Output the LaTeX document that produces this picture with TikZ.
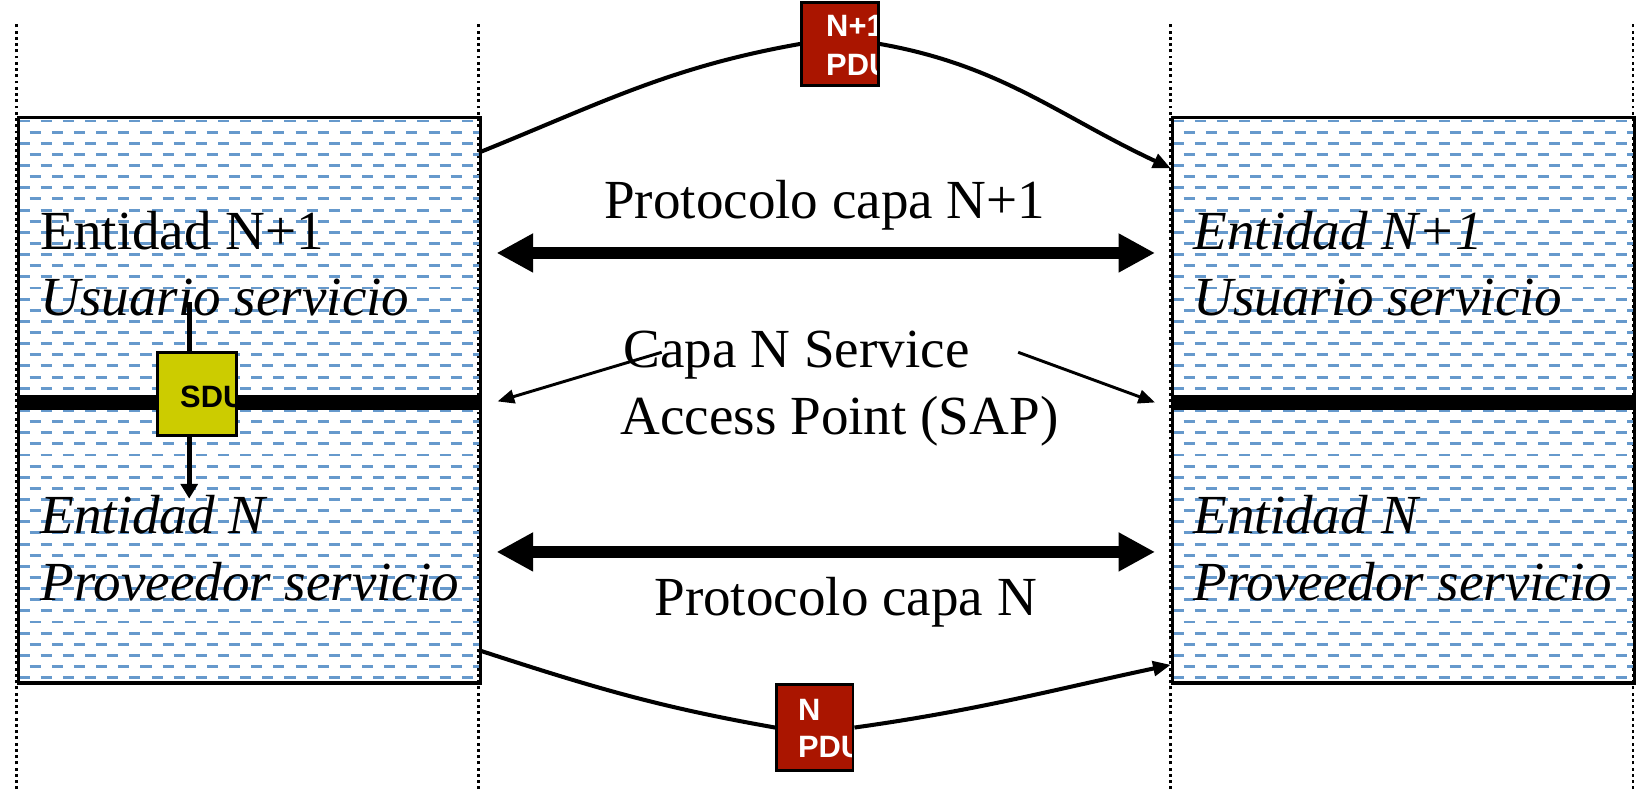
\documentclass[tikz,border=0pt]{standalone}
\usepackage{fontspec}
\setmainfont{Liberation Serif}
\newfontfamily\pdufont{Liberation Sans}
\usetikzlibrary{arrows.meta}

\definecolor{hatchblue}{RGB}{102,153,204}
\definecolor{pdured}{RGB}{170,21,0}
\definecolor{sduyellow}{RGB}{204,204,0}

\begin{document}
\begin{tikzpicture}[
  big/.style={font=\fontsize{15}{18}\selectfont, inner sep=0pt, anchor=base west},
  guide/.style={line width=0.7pt, dash pattern=on 0.8pt off 0.9pt},
  entity/.style={draw, line width=1pt, minimum width=4.42cm, minimum height=5.41cm,
    inner sep=0pt, path picture={
      \foreach \i in {0,...,50} {
        \pgfmathsetmacro{\ph}{mod(\i,2)*0.106}
        \draw[hatchblue, line width=0.8pt, dash pattern=on 1.06mm off 1.06mm, dash phase=\ph cm]
          ([yshift=-0.35mm-\i*1.065mm]path picture bounding box.north west) -- ++(4.5,0);
      }}},
  sap/.style={line width=1.4mm},
  proto/.style={{Triangle[length=3.5mm,width=3.5mm]}-{Triangle[length=3.5mm,width=3.5mm]}, line width=1.2mm},
  pointer/.style={-{Triangle[length=1.6mm,width=1.3mm]}, line width=0.8pt},
  link/.style={line width=1.1pt},
  box/.style={draw, line width=0.8pt, minimum width=0.73cm, minimum height=0.8cm, inner sep=0pt},
  boxtext/.style={font=\pdufont\bfseries\fontsize{8.4}{10}\selectfont, anchor=base west,
    inner sep=0pt, minimum width=0pt, minimum height=0pt, draw=none, fill=none}
]
  \useasboundingbox (0,0) rectangle (15.66,7.55);

  \foreach \x in {0.16,4.58,11.20,15.62}
    \draw[guide] (\x,0) -- (\x,7.34);

  \node[entity, anchor=south west] (izq) at (0.16,1.00) {};
  \node[entity, anchor=south west] (der) at (11.20,1.00) {};

  \draw[sap] (0.16,3.70) -- (4.58,3.70);
  \draw[sap] (11.20,3.70) -- (15.62,3.70);

  \node[big] (ent1izq) at (0.38,5.16) {Entidad N+1};
  \node[big] (usuizq) at (0.38,4.53) {\textit{Usuario servicio}};
  \node[big] (entnizq) at (0.38,2.45) {\textit{Entidad N}};
  \node[big] (provizq) at (0.38,1.81) {\textit{Proveedor servicio}};

  \node[big] (ent1der) at (11.41,5.16) {\textit{Entidad N+1}};
  \node[big] (usuder) at (11.41,4.53) {\textit{Usuario servicio}};
  \node[big] (entnder) at (11.41,2.45) {\textit{Entidad N}};
  \node[big] (provder) at (11.41,1.81) {\textit{Proveedor servicio}};

  \node[big, anchor=base] (protsup) at (7.89,5.46) {Protocolo capa N+1};
  \node[big, anchor=base] (protinf) at (8.09,1.66) {Protocolo capa N};
  \node[big] (capa) at (5.96,4.03) {Capa N Service};
  \node[big] (access) at (5.93,3.39) {Access Point (SAP)};

  \coordinate (n1izq) at (4.75,5.13);
  \coordinate (n1der) at (11.05,5.13);
  \coordinate (nizq) at (4.75,2.27);
  \coordinate (nder) at (11.05,2.27);
  \draw[proto] (n1izq) -- (n1der);
  \draw[proto] (nizq) -- (nder);

  \coordinate (sapi) at (6.33,4.18);
  \coordinate (sapit) at (4.76,3.71);
  \coordinate (sapd) at (9.74,4.18);
  \coordinate (sapdt) at (11.05,3.70);
  \draw[pointer] (sapi) -- (sapit);
  \draw[pointer] (sapd) -- (sapdt);

  \coordinate (sdusale) at (1.81,4.66);
  \coordinate (sdullega) at (1.81,2.78);
  \draw[-{Triangle[length=1.4mm,width=1.6mm]}, line width=1.3pt] (sdusale) -- (sdullega);
  \node[box, fill=sduyellow, minimum width=0.75cm, path picture={
      \node[boxtext] at ([xshift=2mm,yshift=-1.3mm]path picture bounding box.west) {SDU};
    }] (sdu) at (1.885,3.78) {};

  \coordinate (sale1) at (4.58,6.09);
  \coordinate (llega1) at (11.20,5.94);
  \coordinate (sale2) at (4.58,1.33);
  \coordinate (llega2) at (11.20,1.19);

  \node[box, fill=pdured, path picture={
      \node[boxtext, text=white] at ([xshift=2.2mm,yshift=0.7mm]path picture bounding box.west) {N+1};
      \node[boxtext, text=white] at ([xshift=2.2mm,yshift=-3mm]path picture bounding box.west) {PDU};
    }] (pdu1) at (8.035,7.13) {};
  \node[box, fill=pdured, minimum height=0.82cm, path picture={
      \node[boxtext, text=white] at ([xshift=1.9mm,yshift=0.7mm]path picture bounding box.west) {N};
      \node[boxtext, text=white] at ([xshift=1.9mm,yshift=-2.9mm]path picture bounding box.west) {PDU};
    }] (pdu2) at (7.795,0.59) {};

  \draw[link] (sale1) to[out=22,in=190] (pdu1.west);
  \draw[link, -{Triangle[length=1.7mm,width=1.4mm]}] (pdu1.east) to[out=-10,in=155] (llega1);
  \draw[link] (sale2) to[out=-18,in=170] (pdu2.west);
  \draw[link, -{Triangle[length=1.7mm,width=1.4mm]}] (pdu2.east) to[out=8,in=192] (llega2);
\end{tikzpicture}
\end{document}
